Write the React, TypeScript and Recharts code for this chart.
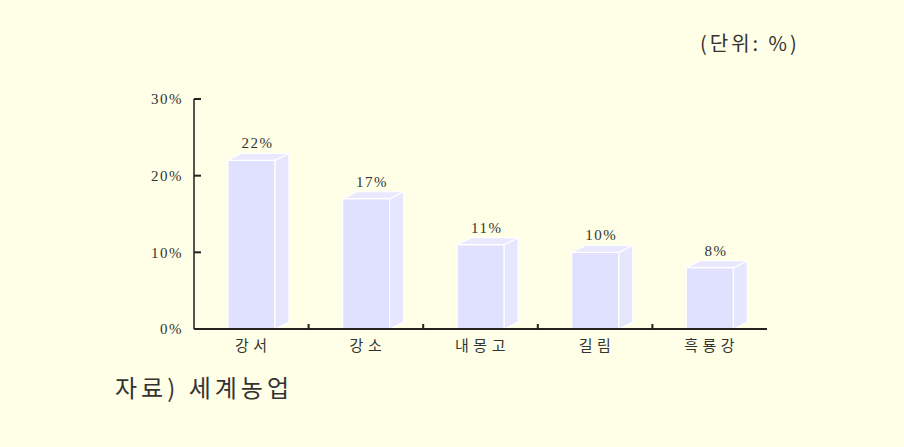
import { Bar, BarChart, LabelList, XAxis, YAxis } from "recharts";

const regions = ["강서", "강소", "내몽고", "길림", "흑룡강"];
const shares = [22, 17, 11, 10, 8];
const yTicks = [0, 10, 20, 30];

const data = regions.map((name, i) => ({ name, share: shares[i] }));

const BG = "#FFFFE7";
const FRONT = "#E0E0FF";
const SIDE = "#E6E6FF";
const TOP = "#E8E8FF";
const DEPTH = 14;
const RISE = 7;
const serif = "'Liberation Serif', 'DejaVu Serif', 'Noto Sans CJK KR', serif";
const korean = "'Noto Sans CJK KR', sans-serif";

function Box3D(props: any) {
  const { x, y, width, height } = props;
  if (!height) return null;
  const top = `${x},${y} ${x + DEPTH},${y - RISE} ${x + width + DEPTH},${y - RISE} ${x + width},${y}`;
  const side = `${x + width},${y} ${x + width + DEPTH},${y - RISE} ${x + width + DEPTH},${y + height - RISE} ${x + width},${y + height}`;
  return (
    <g stroke="#FFFFFF" strokeWidth={1.2}>
      <rect x={x} y={y} width={width} height={height} fill={FRONT} />
      <polygon points={side} fill={SIDE} />
      <polygon points={top} fill={TOP} />
    </g>
  );
}

function ValueLabel(props: any) {
  const { x, y, width, value } = props;
  return (
    <text
      x={x + width / 2 + 6}
      y={y - 12}
      textAnchor="middle"
      fontFamily={serif}
      fontSize={15}
      letterSpacing={1.5}
      fill="#333"
    >
      {value}%
    </text>
  );
}

// y tick: label on the left, short tick pointing into the plot
function YTick(props: any) {
  const { x, y, payload } = props;
  const axisX = x + 11;
  return (
    <g>
      <line x1={axisX} x2={axisX + 7} y1={y} y2={y} stroke="#222" strokeWidth={2} />
      <text
        x={x}
        y={y}
        dy="0.35em"
        textAnchor="end"
        fontFamily={serif}
        fontSize={15}
        letterSpacing={1.5}
        fill="#333"
      >
        {payload.value}%
      </text>
    </g>
  );
}

// x tick: category label, plus a divider tick between bands (pointing up)
function XTick(props: any) {
  const { x, y, payload, index, visibleTicksCount } = props;
  const axisY = y - 9;
  const half = payload.offset ?? 0;
  const last = index === (visibleTicksCount ?? regions.length) - 1;
  return (
    <g>
      {!last && half > 0 && (
        <line x1={x + half} x2={x + half} y1={axisY} y2={axisY - 5} stroke="#222" strokeWidth={2} />
      )}
      <text
        x={x + 2}
        y={y}
        dy="0.85em"
        textAnchor="middle"
        fontFamily={korean}
        fontSize={15}
        letterSpacing={4.5}
        fill="#333"
      >
        {payload.value}
      </text>
    </g>
  );
}

export default function App() {
  return (
    <div
      style={{
        position: "absolute",
        left: 0,
        top: 0,
        width: 904,
        height: 447,
        background: BG,
      }}
    >
      <div
        style={{
          position: "absolute",
          left: 700,
          top: 28,
          fontFamily: korean,
          fontSize: 20,
          letterSpacing: 3,
          color: "#333",
          whiteSpace: "nowrap",
        }}
      >
        (단위: %)
      </div>
      <BarChart
        width={904}
        height={447}
        data={data}
        margin={{ top: 99, right: 137, left: 134, bottom: 88 }}
      >
        <XAxis
          dataKey="name"
          height={30}
          axisLine={{ stroke: "#222", strokeWidth: 2 }}
          tickLine={false}
          tickSize={0}
          tickMargin={9}
          tick={<XTick />}
        />
        <YAxis
          width={60}
          domain={[0, 30]}
          ticks={yTicks}
          axisLine={{ stroke: "#555", strokeWidth: 2 }}
          tickLine={false}
          tickSize={0}
          tickMargin={11}
          tick={<YTick />}
        />
        <Bar dataKey="share" barSize={47} shape={<Box3D />} isAnimationActive={false}>
          <LabelList dataKey="share" content={<ValueLabel />} />
        </Bar>
      </BarChart>
      <div
        style={{
          position: "absolute",
          left: 115,
          top: 369,
          fontFamily: korean,
          fontSize: 24,
          letterSpacing: 4,
          color: "#333",
          whiteSpace: "nowrap",
        }}
      >
        자료) 세계농업
      </div>
    </div>
  );
}
